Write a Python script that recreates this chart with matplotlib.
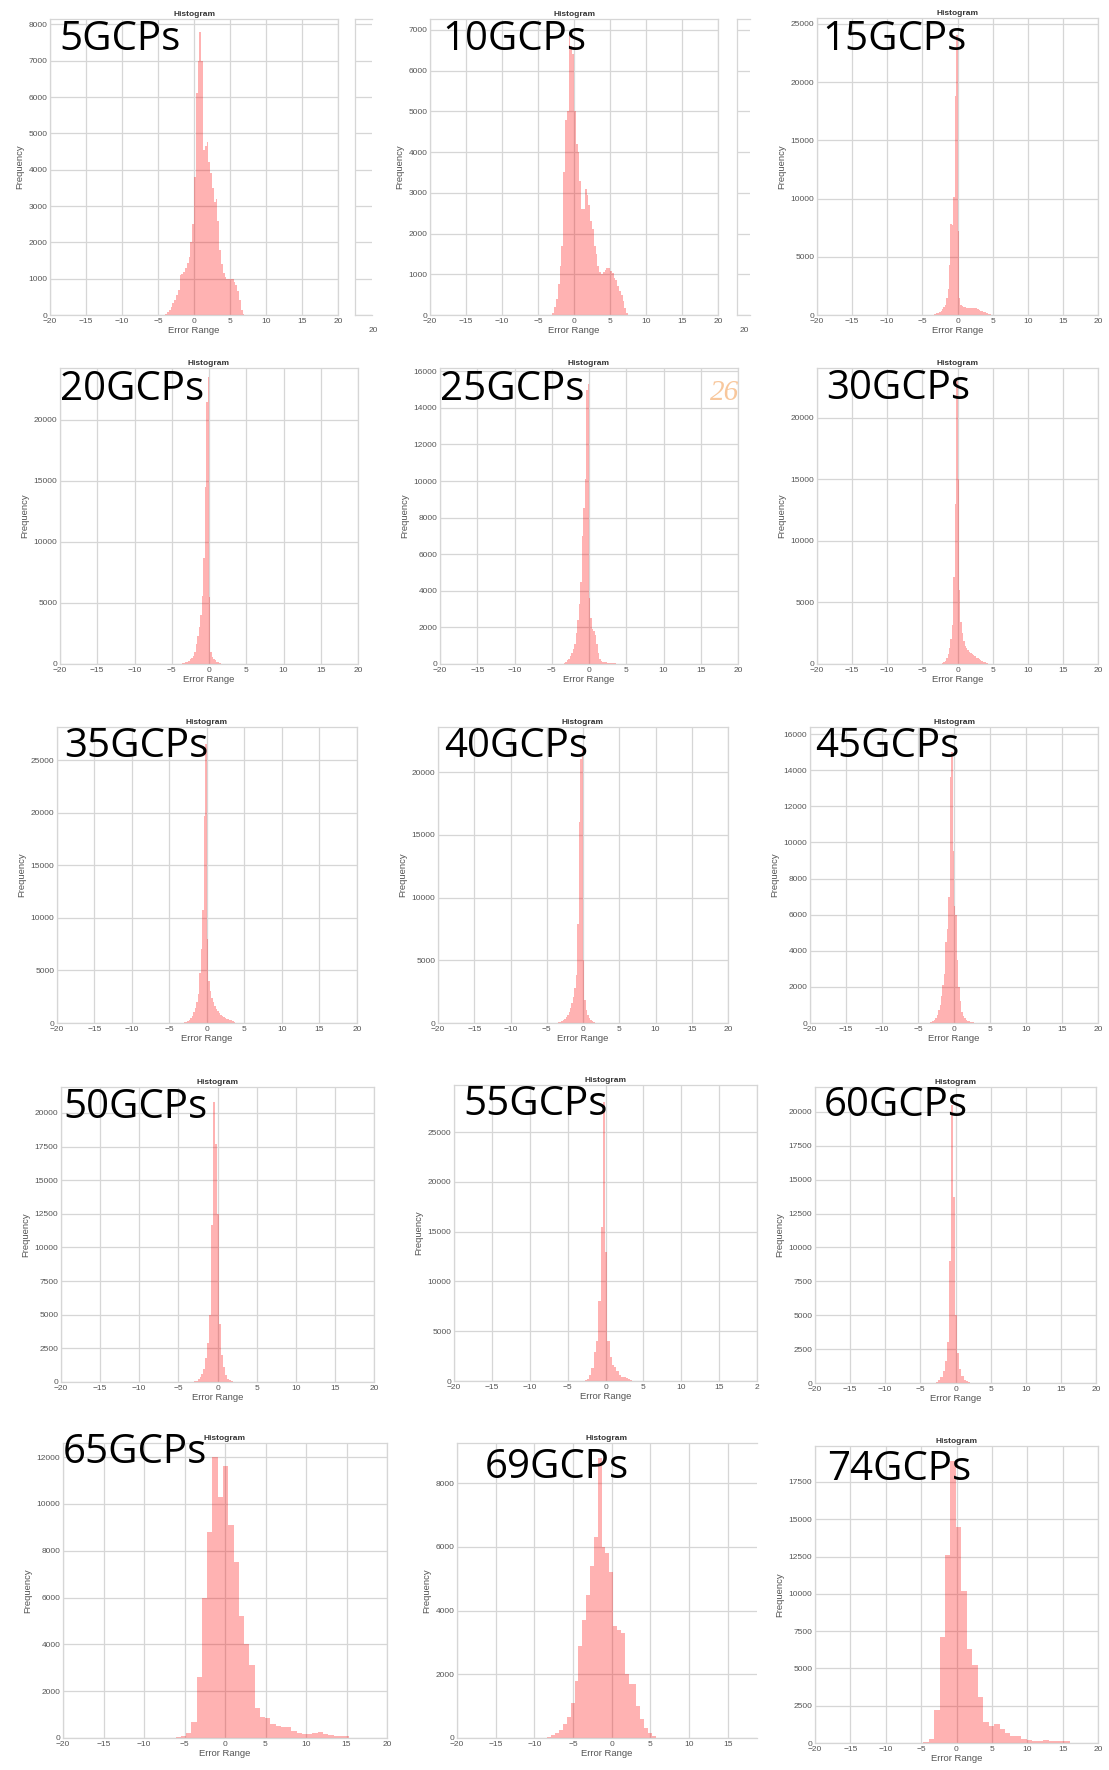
import numpy as np
import matplotlib.pyplot as plt
from matplotlib.ticker import MultipleLocator

W, H = 1109, 1770

# error histograms per GCP count: first bin edge, bin width, counts
gcp05_lo, gcp05_w = -4.0, 0.25
gcp05 = [30, 80, 150, 230, 320, 420, 560, 700, 1100, 1120, 1180, 1300, 1420, 1600,
         2000, 2500, 3800, 6100, 7000, 7800, 7000, 4550, 4650, 4750, 4200, 3900,
         3500, 3100, 3200, 2600, 1800, 1400, 1150, 1050, 1000, 1000, 980, 980, 900,
         820, 650, 400, 150, 40]

gcp10_lo, gcp10_w = -3.0, 0.25
gcp10 = [60, 200, 400, 750, 1200, 1700, 3500, 4800, 5000, 6900, 6600, 6400, 5000,
         4200, 4000, 3300, 2600, 2600, 3100, 2950, 2700, 2300, 2100, 1700, 1500,
         1200, 1050, 1000, 1050, 1100, 1150, 1150, 1080, 1020, 920, 850, 720, 600,
         480, 350, 160, 60]

gcp15_lo, gcp15_w = -3.6, 0.2
gcp15 = [30, 60, 100, 150, 200, 280, 380, 500, 650, 900, 1500, 2200, 4300, 7800,
         7700, 10100, 18800, 24000, 7200, 1500, 900, 750, 700, 650, 620, 600, 580,
         600, 620, 600, 580, 560, 500, 430, 380, 320, 260, 220, 180, 140, 100, 70, 40]

gcp20_lo, gcp20_w = -3.8, 0.2
gcp20 = [30, 60, 100, 150, 200, 280, 380, 500, 650, 1000, 1600, 2300, 3000, 4000,
         5600, 8700, 14500, 21500, 23500, 5500, 1000, 600, 400, 300, 200, 150, 90, 40]

gcp25_lo, gcp25_w = -3.4, 0.2
gcp25 = [40, 100, 200, 300, 450, 600, 800, 1100, 1700, 2400, 3300, 4500, 7000, 8500,
         10100, 15000, 15300, 3600, 2500, 1900, 1800, 1600, 1100, 600, 300, 180, 120,
         100, 90, 80, 70, 60, 50, 40, 30]

gcp30_lo, gcp30_w = -2.4, 0.2
gcp30 = [40, 80, 150, 250, 450, 800, 1300, 2000, 3200, 7100, 13000, 23000, 15000,
         6000, 3400, 2500, 1900, 1500, 1300, 1150, 1000, 900, 800, 700, 620, 520, 450,
         380, 300, 240, 180, 130, 100, 60, 30]

gcp35_lo, gcp35_w = -3.0, 0.2
gcp35 = [50, 100, 180, 300, 450, 700, 1000, 1400, 2000, 2800, 4800, 7000, 10700,
         19700, 26500, 8000, 4000, 3000, 2400, 2000, 1600, 1300, 1100, 950, 800, 700,
         600, 500, 420, 350, 300, 250, 200, 80]

gcp40_lo, gcp40_w = -3.6, 0.2
gcp40 = [30, 60, 100, 160, 230, 320, 450, 650, 900, 1200, 1600, 2100, 2800, 3800,
         7900, 16000, 21000, 22000, 5000, 1800, 1000, 600, 400, 250, 150, 80, 30]

gcp45_lo, gcp45_w = -3.4, 0.2
gcp45 = [30, 60, 100, 180, 300, 450, 700, 1000, 1500, 2100, 2700, 4500, 5200, 7000,
         13600, 15000, 9500, 6500, 6000, 3500, 2000, 1200, 600, 400, 250, 170, 120,
         90, 70, 50, 35, 20]

gcp50_lo, gcp50_w = -3.05, 0.25
gcp50 = [40, 100, 200, 350, 600, 1000, 1800, 2900, 5000, 11700, 20800, 17700, 12500,
         4300, 2000, 1100, 500, 250, 120, 50]

gcp55_lo, gcp55_w = -2.75, 0.3
gcp55 = [80, 250, 600, 1300, 2900, 4000, 8000, 15500, 28000, 13000, 4000, 2400, 1600,
         1400, 1000, 600, 450, 380, 300, 220, 120]

gcp60_lo, gcp60_w = -2.75, 0.3
gcp60 = [60, 200, 450, 900, 1600, 3000, 9000, 20500, 13700, 5000, 2200, 1000, 500,
         250, 120, 50]

gcp65_lo, gcp65_w = -6.75, 0.65
gcp65 = [20, 40, 80, 200, 700, 2600, 6000, 8800, 12000, 10300, 11600, 9100, 7500,
         5200, 4000, 3100, 1300, 900, 850, 600, 500, 480, 450, 300, 200, 150, 180,
         200, 240, 180, 120, 100, 90, 80]

gcp69_lo, gcp69_w = -8.3, 0.5
gcp69 = [30, 80, 150, 250, 450, 650, 1100, 1800, 2900, 3700, 4500, 5400, 6300, 8800,
         6000, 5800, 5200, 3500, 3400, 3300, 2000, 1700, 1700, 1000, 600, 300, 150, 50]

gcp74_lo, gcp74_w = -4.7, 0.77
gcp74 = [50, 300, 2200, 7100, 12600, 18900, 14500, 10200, 6300, 5200, 3100, 1400,
         1150, 1250, 950, 650, 500, 450, 300, 180, 150, 160, 170, 160, 150, 140, 120]

names = ['5GCPs', '10GCPs', '15GCPs', '20GCPs', '25GCPs', '30GCPs', '35GCPs',
         '40GCPs', '45GCPs', '50GCPs', '55GCPs', '60GCPs', '65GCPs', '69GCPs', '74GCPs']
runs = [(gcp05_lo, gcp05_w, gcp05), (gcp10_lo, gcp10_w, gcp10), (gcp15_lo, gcp15_w, gcp15),
        (gcp20_lo, gcp20_w, gcp20), (gcp25_lo, gcp25_w, gcp25), (gcp30_lo, gcp30_w, gcp30),
        (gcp35_lo, gcp35_w, gcp35), (gcp40_lo, gcp40_w, gcp40), (gcp45_lo, gcp45_w, gcp45),
        (gcp50_lo, gcp50_w, gcp50), (gcp55_lo, gcp55_w, gcp55), (gcp60_lo, gcp60_w, gcp60),
        (gcp65_lo, gcp65_w, gcp65), (gcp69_lo, gcp69_w, gcp69), (gcp74_lo, gcp74_w, gcp74)]

# panel boxes in pixels (left, right, top, bottom), y limit, y tick step, label baseline
layout = [
    ((50, 338, 19, 315), 8150, 1000, (59, 50)),
    ((430, 718, 19, 315), 7270, 1000, (442, 50)),
    ((817, 1098, 18, 315), 25500, 5000, (822, 50)),
    ((60, 358, 368, 664), 24260, 5000, (60, 400)),
    ((440, 738, 368, 664), 16180, 2000, (440, 400)),
    ((817, 1098, 368, 664), 24065, 5000, (826, 399)),
    ((57, 357, 727, 1023), 28140, 5000, (64, 757)),
    ((438, 728, 727, 1023), 23590, 5000, (444, 757)),
    ((810, 1098, 727, 1023), 16390, 2000, (815, 757)),
    ((61, 374, 1087, 1382), 21930, 2500, (63, 1118)),
    ((454, 757, 1085, 1381), 29720, 5000, (463, 1115)),
    ((815, 1096, 1087, 1383), 21845, 2500, (824, 1116)),
    ((63, 387, 1443, 1738), 12600, 2000, (63, 1463)),
    ((457, 757, 1443, 1738), 9255, 2000, (485, 1478)),
    ((815, 1098, 1446, 1743), 19910, 2500, (827, 1480)),
]

plt.rcParams['font.family'] = ['Liberation Sans', 'DejaVu Sans']
fig = plt.figure(figsize=(W / 100, H / 100), dpi=100)
fig.patch.set_facecolor('white')

GRID = '#d6d6d6'
TXT = '#555555'


def px_axes(l, r, t, b):
    return fig.add_axes([l / W, 1 - b / H, (r - l) / W, (b - t) / H])


def style(ax):
    ax.set_facecolor('white')
    ax.set_axisbelow(True)
    ax.grid(True, color=GRID, lw=0.9)
    for s in ax.spines.values():
        s.set_color(GRID)
        s.set_linewidth(0.9)
    ax.tick_params(length=0, labelsize=6, colors=TXT, pad=2)


for i, ((lo, w, counts), (box, ytop, ystep, lab)) in enumerate(zip(runs, layout)):
    ax = px_axes(*box)
    style(ax)
    counts = np.array(counts, dtype=float)
    edges = lo + w * np.arange(len(counts) + 1)
    ax.hist(edges[:-1] + w / 2, bins=edges, weights=counts, histtype='stepfilled',
            color='red', alpha=0.3, linewidth=0)
    ax.set_xticks(np.arange(-20, 21, 5))
    if i == 13:
        ax.set_xlim(-20, 18.8)
        ax.set_xticks(np.arange(-20, 16, 5))
        ax.spines['right'].set_visible(False)
    else:
        ax.set_xlim(-20, 20)
    if i == 10:
        ax.set_xticklabels(['\u221220', '\u221215', '\u221210', '\u22125', '0', '5',
                            '10', '15', '2'])
    ax.set_ylim(0, ytop)
    ax.yaxis.set_major_locator(MultipleLocator(ystep))
    ax.set_title('Histogram', fontsize=6, fontweight='bold', color='#333333', pad=2.5)
    ax.set_xlabel('Error Range', fontsize=6.8, color=TXT, labelpad=1)
    ax.set_ylabel('Frequency', fontsize=6.8, color=TXT, labelpad=3)
    fig.text(lab[0] / W, 1 - lab[1] / H, names[i], fontsize=29, family='Open Sans',
             color='black', ha='left', va='baseline', zorder=5)

# slivers of neighbouring plots at the right edge of the first row
for (l, r, ref) in [(355, 372, 0), (737, 750, 1)]:
    box, ytop, ystep, _ = layout[ref]
    ax = px_axes(l, r, box[2], box[3])
    style(ax)
    ax.spines['right'].set_visible(False)
    ax.set_ylim(0, ytop)
    ax.yaxis.set_major_locator(MultipleLocator(ystep))
    ax.set_yticklabels([])
    ax.set_xticks([])
fig.text(373 / W, 1 - 332 / H, '20', fontsize=6, color=TXT, ha='center')
fig.text(744 / W, 1 - 332 / H, '20', fontsize=6, color=TXT, ha='center')

# page number on the scanned sheet
fig.text(725 / W, 1 - 400 / H, '26', fontsize=21, family='Liberation Serif',
         style='italic', color='#f8c79c', ha='center', va='baseline', zorder=5)

fig.savefig('out.png', dpi=100, facecolor='white')
